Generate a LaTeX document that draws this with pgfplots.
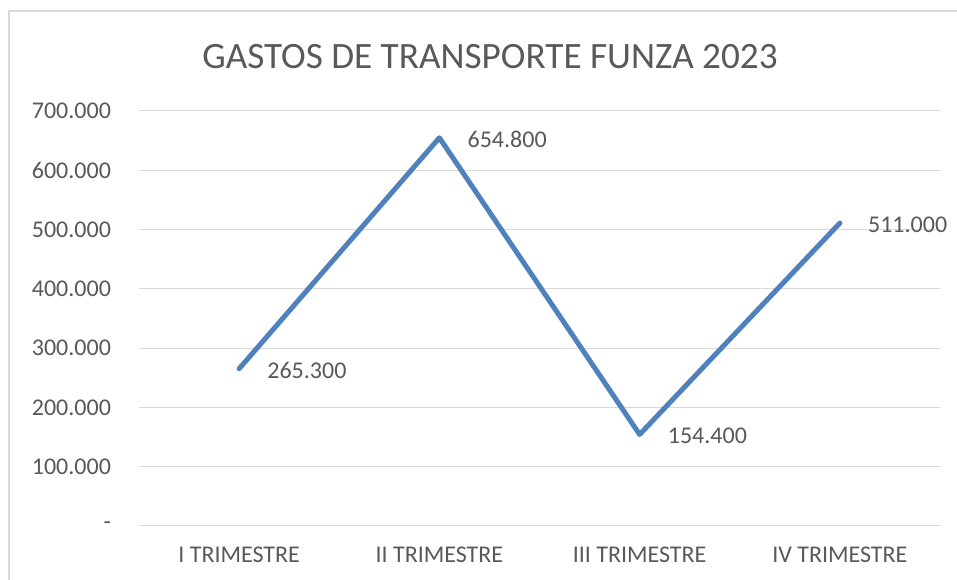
\documentclass[border=0pt]{standalone}
\usepackage{pgfplots}
\pgfplotsset{compat=1.18}
\usepackage{fontspec}
\setmainfont{Carlito}
\definecolor{linecol}{HTML}{4F81BD}
\definecolor{txt}{HTML}{595959}
\definecolor{gridc}{HTML}{D9D9D9}
\begin{document}
\begin{tikzpicture}[x=0.75pt,y=0.75pt]
\path[use as bounding box] (0,0) rectangle (957,580);
\fill[white] (0,0) rectangle (957,580);
\draw[gridc, line width=1.5pt] (8.5,-5) -- (8.5,568.5) -- (962,568.5);
\node[txt, font=\fontsize{27.9}{32}\selectfont] at (490,523) {GASTOS DE TRANSPORTE FUNZA 2023};
\begin{axis}[
  at={(104.25pt,40.5pt)}, anchor=south west,
  scale only axis, width=600.75pt, height=311.25pt,
  xmin=-0.5, xmax=3.5, ymin=0, ymax=700000,
  axis line style={draw=none},
  major tick length=0pt,
  ymajorgrids, grid style={gridc, line width=0.75pt},
  xtick={0,1,2,3},
  xticklabels={I TRIMESTRE, II TRIMESTRE, III TRIMESTRE, IV TRIMESTRE},
  ytick={0,100000,200000,300000,400000,500000,600000,700000},
  yticklabels={-,100.000,200.000,300.000,400.000,500.000,600.000,700.000},
  scaled y ticks=false,
  tick label style={txt, font=\fontsize{18}{21}\selectfont},
  yticklabel style={anchor=east, xshift=-17.5pt},
  xticklabel style={anchor=north, yshift=-12pt},
  clip=false,
  point meta=explicit symbolic,
  nodes near coords,
  nodes near coords style={anchor=west, xshift=16pt, yshift=-1pt, txt, font=\fontsize{18}{21}\selectfont},
]
\addplot[linecol, line width=3.75pt, line cap=round, line join=round] coordinates {
  (0,265300) [265.300]
  (1,654800) [654.800]
  (2,154400) [154.400]
  (3,511000) [511.000]
};
\end{axis}
\end{tikzpicture}
\end{document}
